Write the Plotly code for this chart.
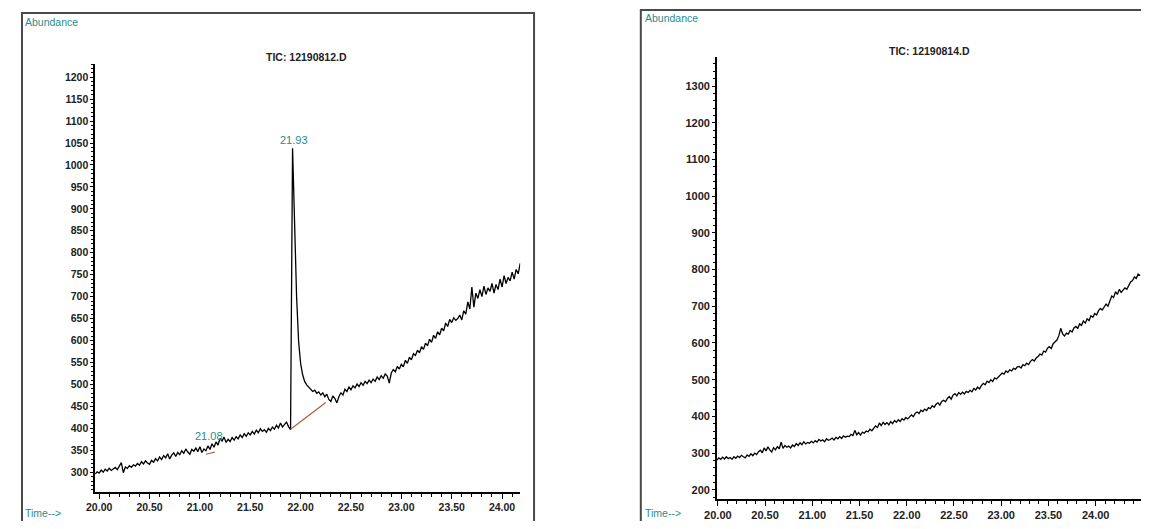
import plotly.graph_objects as go

# page is 1149x529; the html body keeps an 8px margin, so the figure is
# sized to fit inside it exactly
PAGE_W, PAGE_H, OFF = 1149, 529, 8
W, H = PAGE_W - 2 * OFF, PAGE_H - 2 * OFF

# ---------------- data ----------------
# Left chromatogram: TIC 12190812.D (time start / step, abundance values)
left_t0, left_dt = 19.96, 0.02
left_vals = [
    296, 301, 298, 305, 300, 307, 303, 309, 304, 308,
    311, 306, 313, 322, 299, 312, 309, 315, 311, 317,
    314, 320, 316, 324, 319, 326, 321, 318, 327, 323,
    331, 326, 335, 329, 338, 333, 342, 330, 339, 344,
    336, 345, 340, 349, 343, 353, 346, 341, 352, 348,
    355, 347, 358, 345, 353, 349, 360, 352, 365, 357,
    369, 362, 377, 371, 380, 368, 375, 370, 379, 373,
    381, 376, 385, 379, 388, 382, 390, 385, 393, 387,
    396, 390, 399, 393, 397, 391, 400, 395, 403, 398,
    407, 401, 412, 403, 409, 414, 404, 397, 1038, 840,
    700, 598, 548, 522, 507, 499, 494, 488, 484, 487,
    480, 483, 476, 481, 472, 478, 466, 461, 474, 468,
    458, 472, 481, 476, 489, 484, 494, 488, 497, 492,
    501, 495, 504, 498, 507, 502, 510, 504, 512, 507,
    517, 511, 520, 514, 524, 519, 503, 526, 534, 529,
    541, 535, 546, 540, 555, 548, 562, 556, 570, 566,
    578, 572, 586, 580, 594, 588, 603, 596, 612, 605,
    620, 613, 628, 622, 640, 632, 648, 641, 652, 646,
    650, 658, 647, 668, 660, 688, 672, 722, 676, 708,
    696, 716, 700, 724, 705, 720, 712, 730, 708, 728,
    716, 740, 722, 748, 730, 744, 736, 756, 740, 762,
    752, 776,
]
left_base1_t = [21.90, 22.25]
left_base1_v = [398, 459]
left_base2_t = [21.06, 21.15]
left_base2_v = [341, 346]
left_peaks = [("21.93", 21.93, 1038), ("21.08", 21.09, 382)]

# Right chromatogram: TIC 12190814.D
right_t0, right_dt = 19.99, 0.02
right_vals = [
    281, 287, 283, 289, 284, 290, 285, 288, 283, 290,
    286, 292, 288, 294, 290, 287, 295, 291, 298, 293,
    300, 296, 304, 308, 301, 314, 306, 317, 309, 303,
    315, 309, 318, 312, 330, 313, 321, 316, 319, 314,
    322, 318, 326, 321, 328, 323, 331, 325, 329, 327,
    332, 328, 334, 330, 337, 333, 336, 331, 339, 335,
    337, 341, 336, 343, 339, 345, 340, 347, 343, 346,
    345, 351, 348, 362, 350, 356, 349, 357, 354, 360,
    358, 365, 361, 369, 374, 370, 382, 375, 384, 378,
    383, 377, 386, 380, 389, 384, 391, 386, 394, 390,
    397, 393, 400, 404, 399, 409, 412, 408, 417, 413,
    420, 416, 424, 421, 429, 425, 433, 437, 431, 441,
    444, 440, 449, 454, 447, 458, 462, 456, 465, 460,
    466, 461, 468, 465, 471, 467, 476, 472, 480, 475,
    484, 490, 486, 496, 492, 500, 495, 505, 502, 508,
    512, 518, 515, 524, 520, 527, 524, 531, 528, 535,
    536, 532, 541, 538, 545, 541, 550, 555, 551, 559,
    563, 570, 567, 578, 575, 586, 590, 585, 598, 604,
    608, 620, 640, 625, 619, 627, 624, 634, 630, 641,
    645, 640, 652, 648, 660, 654, 666, 661, 674, 670,
    680, 676, 688, 694, 690, 698, 706, 700, 716, 728,
    724, 740, 732, 746, 738, 743, 750, 746, 758, 766,
    770, 780, 776, 788, 784,
]

left_title = "TIC: 12190812.D"
right_title = "TIC: 12190814.D"

left_t = [round(left_t0 + i * left_dt, 4) for i in range(len(left_vals))]
right_t = [round(right_t0 + i * right_dt, 4) for i in range(len(right_vals))]

# ---------------- helpers: page pixel -> paper ----------------
def px_x(p):
    return (p - OFF) / W

def px_y(p):
    return 1 - (p - OFF) / H

TEAL = "#2a8c8c"
BROWN = "#b0553a"
FONT = "Liberation Sans, Arial, sans-serif"
TICKFONT_L = dict(family=FONT, size=10.5, color="#222222", weight="bold")
TICKFONT_R = dict(family=FONT, size=11, color="#222222", weight="bold")

fig = go.Figure()

fig.add_trace(go.Scatter(x=left_t, y=left_vals, mode="lines",
                         line=dict(color="black", width=1.3), xaxis="x", yaxis="y",
                         showlegend=False, hoverinfo="skip"))
fig.add_trace(go.Scatter(x=left_base1_t, y=left_base1_v, mode="lines",
                         line=dict(color=BROWN, width=1.1), xaxis="x", yaxis="y",
                         showlegend=False, hoverinfo="skip"))
fig.add_trace(go.Scatter(x=left_base2_t, y=left_base2_v, mode="lines",
                         line=dict(color=BROWN, width=1.1), xaxis="x", yaxis="y",
                         showlegend=False, hoverinfo="skip"))
fig.add_trace(go.Scatter(x=right_t, y=right_vals, mode="lines",
                         line=dict(color="black", width=1.3), xaxis="x2", yaxis="y2",
                         showlegend=False, hoverinfo="skip"))

axis_common = dict(showgrid=False, zeroline=False, showline=True, linecolor="black",
                   linewidth=1.5, ticks="outside", tickcolor="black", tickwidth=1,
                   fixedrange=True)

fig.update_layout(
    width=W, height=H,
    margin=dict(l=0, r=0, t=0, b=0),
    paper_bgcolor="white", plot_bgcolor="white",
    xaxis=dict(domain=[px_x(83), px_x(513)], range=[19.96, 24.18], anchor="y",
               tick0=20, dtick=0.5, tickformat=".2f", ticklen=5, tickfont=TICKFONT_L,
               minor=dict(dtick=0.1, tick0=20, ticks="outside", ticklen=3, tickcolor="black"),
               **axis_common),
    yaxis=dict(domain=[px_y(492), px_y(64)], range=[255, 1230], anchor="x",
               tick0=0, dtick=50, ticklen=3, tickfont=TICKFONT_L,
               minor=dict(dtick=10, tick0=0, ticks="outside", ticklen=2, tickcolor="black"),
               **axis_common),
    xaxis2=dict(domain=[px_x(712), 1.0], range=[19.99, 24.48], anchor="y2",
                tick0=20, dtick=0.5, tickformat=".2f", ticklen=5, tickfont=TICKFONT_R,
                minor=dict(dtick=0.1, tick0=20, ticks="outside", ticklen=3, tickcolor="black"),
                **axis_common),
    yaxis2=dict(domain=[px_y(499), px_y(57)], range=[175, 1379], anchor="x2",
                tick0=0, dtick=100, ticklen=3, tickfont=TICKFONT_R,
                minor=dict(dtick=20, tick0=0, ticks="outside", ticklen=2, tickcolor="black"),
                **axis_common),
)

# panel frames
fig.add_shape(type="rect", xref="paper", yref="paper",
              x0=px_x(9), x1=px_x(527), y0=px_y(540), y1=px_y(13),
              line=dict(color="#4a4a4a", width=2), layer="below")
fig.add_shape(type="rect", xref="paper", yref="paper",
              x0=px_x(635), x1=px_x(1160), y0=px_y(540), y1=px_y(10),
              line=dict(color="#4a4a4a", width=2), layer="below")

txt_font = dict(family=FONT, size=10.5)

annos = [
    dict(text="Abundance", x=px_x(10), y=px_y(14), xanchor="left", yanchor="top",
         font=dict(color=TEAL, **txt_font)),
    dict(text="Time-->", x=px_x(10), y=px_y(521), xanchor="left", yanchor="bottom",
         font=dict(color=TEAL, **txt_font)),
    dict(text=left_title, x=px_x(297), y=px_y(57), xanchor="center", yanchor="middle",
         font=dict(color="#222222", weight="bold", **txt_font)),
    dict(text="Abundance", x=px_x(637), y=px_y(10), xanchor="left", yanchor="top",
         font=dict(color=TEAL, **txt_font)),
    dict(text="Time-->", x=px_x(637), y=px_y(521), xanchor="left", yanchor="bottom",
         font=dict(color=TEAL, **txt_font)),
    dict(text=right_title, x=px_x(927), y=px_y(51), xanchor="center", yanchor="middle",
         font=dict(color="#222222", weight="bold", **txt_font)),
]
for a in annos:
    a.update(xref="paper", yref="paper", showarrow=False)
    fig.add_annotation(**a)

lbl, tx, ty = left_peaks[0]
fig.add_annotation(text=lbl, x=tx, y=ty, xref="x", yref="y", showarrow=False,
                   xanchor="center", yanchor="bottom",
                   font=dict(color=TEAL, family=FONT, size=11))
lbl, tx, ty = left_peaks[1]
fig.add_annotation(text=lbl, x=tx, y=ty, xref="x", yref="y", showarrow=False,
                   xanchor="center", yanchor="middle",
                   font=dict(color=TEAL, family=FONT, size=11))

fig.write_html("out.html")
